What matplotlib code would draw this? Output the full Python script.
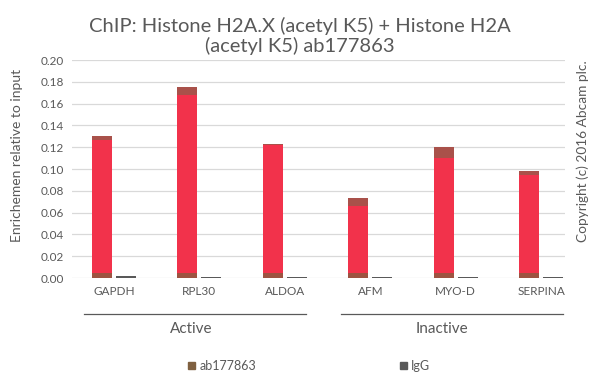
import matplotlib.pyplot as plt
import numpy as np
from matplotlib.patches import Patch

genes = ['GAPDH', 'RPL30', 'ALDOA', 'AFM', 'MYO-D', 'SERPINA']
ab_values = [0.130, 0.175, 0.123, 0.073, 0.120, 0.098]
ab_err = [0.003, 0.007, 0.001, 0.007, 0.010, 0.003]
igg_values = [0.0015, 0.001, 0.001, 0.001, 0.001, 0.001]
groups = ['Active', 'Inactive']

RED = '#f2324b'
BROWN = '#a9514a'
BASE = '#8e5a40'
GRAY = '#595959'
TXT = '#595959'

plt.rcParams['font.family'] = ['Lato', 'DejaVu Sans']

fig = plt.figure(figsize=(6, 3.88), dpi=100)
ax = fig.add_axes([0.12, 0.2835, 0.822, 0.5615])

x = np.arange(len(genes))
w = 0.234
off = 0.14
ax.bar(x - off, ab_values, w, color=RED, zorder=3)
# brown band at the base and at the top of each bar
ax.bar(x - off, [0.005] * len(x), w, color=BASE, alpha=0.85, zorder=4)
ax.bar(x - off, ab_err, w, bottom=np.array(ab_values) - np.array(ab_err),
       color=BROWN, zorder=4)
ax.bar(x + off, igg_values, w, color=GRAY, zorder=3)

ax.set_ylim(0, 0.20)
ax.set_xlim(-0.49, 5.28)
ax.set_yticks(np.arange(0, 0.201, 0.02))
ax.set_yticklabels([f'{v:.2f}' for v in np.arange(0, 0.201, 0.02)])
ax.set_xticks(x)
ax.set_xticklabels(genes)
ax.tick_params(length=0, labelsize=8.5, colors=TXT, pad=6)
ax.tick_params(axis='x', pad=6)
ax.grid(True, axis='y', color='#d9d9d9', linewidth=0.9, zorder=0)
for s in ax.spines.values():
    s.set_visible(False)

ax.set_ylabel('Enrichemen relative to input', fontsize=10, color=TXT, labelpad=8)
ax.yaxis.set_label_coords(-0.1, 0.564)

# group brackets below the category labels
spans = [(-0.35, 2.25), (2.66, 5.26)]
label_x = [0.9, 3.84]
for g, (a, b), lx in zip(groups, spans, label_x):
    ax.plot([a, b], [-0.165, -0.165], color=TXT, linewidth=0.9,
            transform=ax.get_xaxis_transform(), clip_on=False)
    ax.text(lx, -0.235, g, transform=ax.get_xaxis_transform(),
            ha='center', va='center', fontsize=11, color=TXT)

fig.text(0.5, 0.908, 'ChIP: Histone H2A.X (acetyl K5) + Histone H2A\n(acetyl K5) ab177863',
         ha='center', va='center', fontsize=14.5, color=TXT, linespacing=1.15)

fig.text(0.972, 0.61, 'Copyright (c) 2016 Abcam plc.', rotation=90,
         ha='center', va='center', fontsize=9.8, color=TXT)

handles = [Patch(color='#7f6040'), Patch(color=GRAY)]
fig.legend(handles, ['ab177863', 'IgG'], loc='center', bbox_to_anchor=(0.515, 0.057),
           ncol=2, frameon=False, fontsize=9, handlelength=0.6, handleheight=0.6,
           handletextpad=0.3, columnspacing=11.5, labelcolor=TXT)

fig.savefig('out.png', dpi=100)
